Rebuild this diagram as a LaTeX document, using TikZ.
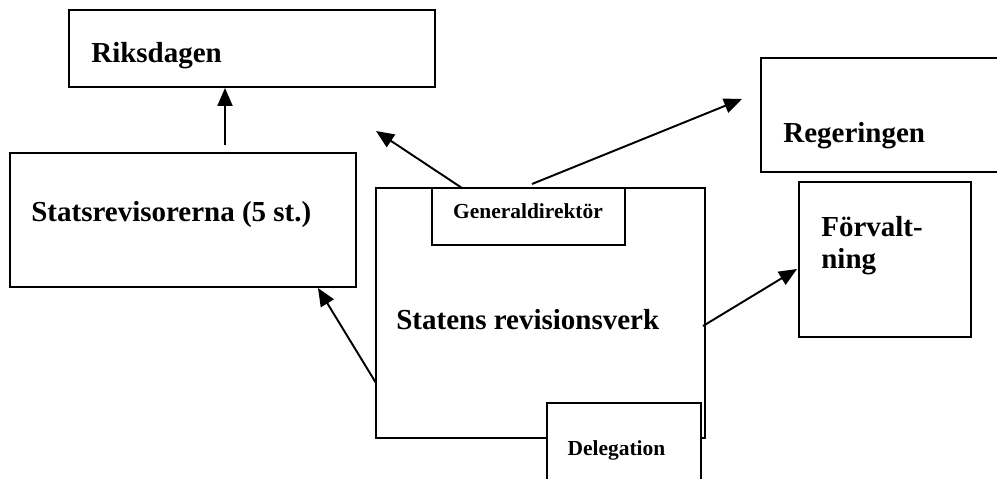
\documentclass[tikz,border=0pt]{standalone}
\usepackage{fontspec}
\setmainfont{Liberation Serif}
\usetikzlibrary{arrows.meta,fit}

\begin{document}
\begin{tikzpicture}[x=0.02cm, y=-0.02cm,
    box/.style={draw, line width=1.1pt, fill=white, inner sep=0pt},
    big/.style={inner sep=0pt, font=\fontsize{16.5pt}{18.2pt}\selectfont\bfseries},
    small/.style={inner sep=0pt, font=\fontsize{12.2pt}{14pt}\selectfont\bfseries},
    arr/.style={line width=1.1pt, -{Triangle[length=0.36cm,width=0.3cm]}}]
\useasboundingbox (0,0) rectangle (997,479);
% the boxes
\node[box, fit={(69,10) (435,87)}] (riks) {};
\node[box, fit={(761,58) (1010,172)}] (reg) {};
\node[box, fit={(10,153) (356,287)}] (srev) {};
\node[box, fit={(799,182) (971,337)}] (forv) {};
\node[box, fit={(376,188) (705,438)}] (rrv) {};
\node[box, fit={(432,188) (625,245)}] (gd) {};
\node[box, fit={(547,403) (701,495)}] (deleg) {};
% the texts
\node[big, anchor=base west] (riksT) at (91,63) {Riksdagen};
\node[big, anchor=base west] (regT) at (783,143) {Regeringen};
\node[big, anchor=base west] (srevT) at (31,222) {Statsrevisorerna (5 st.)};
\node[big, anchor=north west, align=left] (forvT) at (821,216) {Förvalt-\\ning};
\node[big, anchor=base west] (rrvT) at (396,330) {Statens revisionsverk};
\node[small, anchor=base] (gdT) at (528,219) {Generaldirektör};
\node[small, anchor=base] (delegT) at (616.5,455) {Delegation};
% ends of the arrows
\coordinate (upS) at (225,145);
\coordinate (gdS) at (462,188);
\coordinate (gdE) at (376,131);
\coordinate (regS) at (532,184);
\coordinate (regE) at (742,99);
\coordinate (forvS) at (703,326);
\coordinate (forvE) at (797,269);
\coordinate (srevS) at (376,383);
\coordinate (srevE) at (318,288);
\draw[arr] (upS) -- (upS |- riks.south);
\draw[arr] (gdS) -- (gdE);
\draw[arr] (regS) -- (regE);
\draw[arr] (forvS) -- (forvE);
\draw[arr] (srevS) -- (srevE);
\end{tikzpicture}
\end{document}
